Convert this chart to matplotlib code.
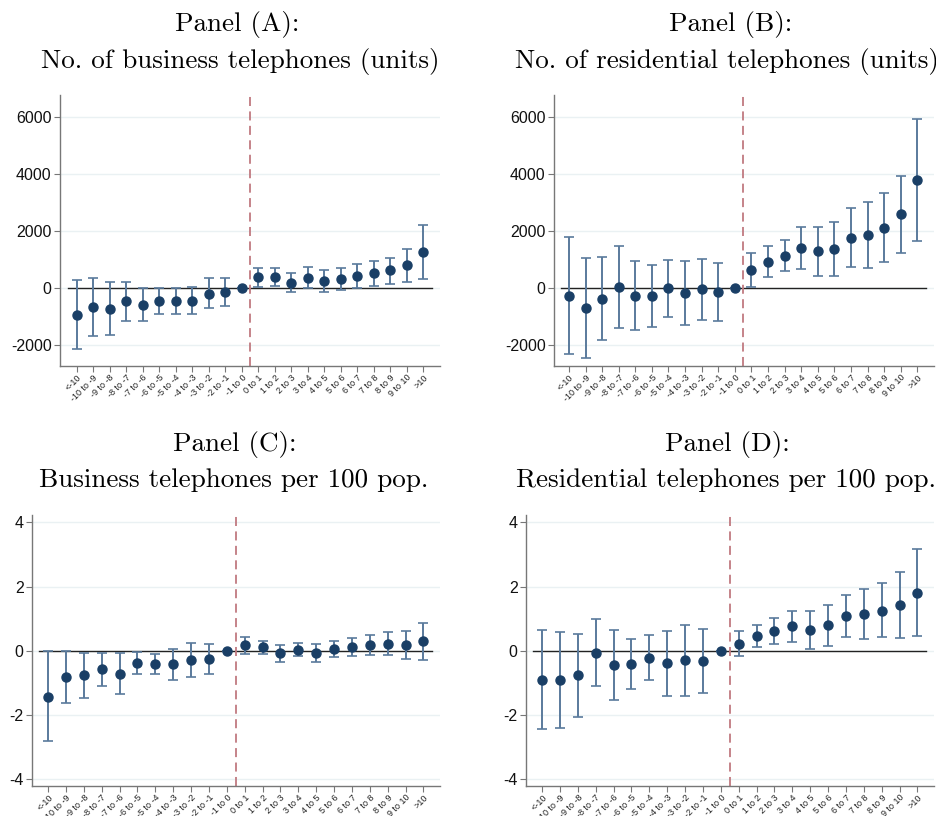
import matplotlib
matplotlib.use("Agg")
import matplotlib.pyplot as plt
import numpy as np

categories = ["<-10", "-10 to -9", "-9 to -8", "-8 to -7", "-7 to -6", "-6 to -5",
              "-5 to -4", "-4 to -3", "-3 to -2", "-2 to -1", "-1 to 0",
              "0 to 1", "1 to 2", "2 to 3", "3 to 4", "4 to 5", "5 to 6",
              "6 to 7", "7 to 8", "8 to 9", "9 to 10", ">10"]

# Panel A: business telephones (units)
a_est = [-959, -667, -725, -468, -585, -456, -456, -456, -199, -152, 0,
         363, 363, 175, 351, 234, 304, 421, 503, 608, 807, 1251]
a_lo = [-2160, -1680, -1660, -1180, -1180, -920, -900, -930, -700, -650, 0,
        40, 60, -160, 0, -150, -80, 0, 70, 150, 220, 300]
a_hi = [270, 330, 190, 210, 0, 10, 0, 20, 330, 340, 0,
        690, 680, 520, 720, 630, 680, 840, 950, 1060, 1370, 2200]

# Panel B: residential telephones (units)
b_est = [-281, -702, -386, 23, -292, -292, -23, -175, -58, -140, 0,
         620, 912, 1123, 1392, 1275, 1345, 1754, 1836, 2105, 2573, 3778]
b_lo = [-2304, -2444, -1836, -1404, -1485, -1368, -1018, -1287, -1134, -1170, 0,
        35, 363, 585, 667, 421, 409, 725, 678, 901, 1228, 1637]
b_hi = [1766, 1041, 1088, 1450, 924, 795, 982, 924, 1017, 877, 0,
        1216, 1474, 1661, 2129, 2129, 2304, 2784, 2994, 3310, 3918, 5906]

# Panel C: business telephones per 100 pop.
c_est = [-1.43, -0.83, -0.77, -0.58, -0.72, -0.38, -0.42, -0.43, -0.28, -0.27, 0,
         0.17, 0.10, -0.08, 0.03, -0.06, 0.04, 0.11, 0.19, 0.22, 0.19, 0.29]
c_lo = [-2.83, -1.63, -1.49, -1.09, -1.34, -0.73, -0.72, -0.91, -0.81, -0.73, 0,
        -0.09, -0.11, -0.35, -0.18, -0.34, -0.21, -0.16, -0.14, -0.14, -0.26, -0.29]
c_hi = [0.0, 0.0, -0.06, -0.06, -0.08, -0.03, -0.11, 0.06, 0.24, 0.20, 0,
        0.44, 0.31, 0.18, 0.25, 0.20, 0.30, 0.38, 0.50, 0.57, 0.62, 0.87]

# Panel D: residential telephones per 100 pop.
d_est = [-0.90, -0.92, -0.77, -0.07, -0.45, -0.42, -0.22, -0.40, -0.30, -0.32, 0,
         0.22, 0.46, 0.61, 0.76, 0.64, 0.80, 1.08, 1.14, 1.25, 1.42, 1.81]
d_lo = [-2.44, -2.41, -2.06, -1.11, -1.53, -1.19, -0.93, -1.42, -1.40, -1.33, 0,
        -0.18, 0.10, 0.21, 0.26, 0.04, 0.16, 0.42, 0.35, 0.42, 0.40, 0.46]
d_hi = [0.64, 0.57, 0.52, 0.98, 0.65, 0.35, 0.49, 0.61, 0.81, 0.69, 0,
        0.62, 0.81, 1.02, 1.25, 1.23, 1.43, 1.74, 1.93, 2.10, 2.45, 3.18]

W, H = 937, 816
fig = plt.figure(figsize=(W / 100, H / 100), dpi=100)
fig.patch.set_facecolor("white")

panels = [
    dict(box=(60, 95, 440, 366), est=a_est, lo=a_lo, hi=a_hi,
         yticks=[-2000, 0, 2000, 4000, 6000], ylim=(-2740, 6760), xlim=(-1.0, 22.0)),
    dict(box=(554, 95, 934, 366), est=b_est, lo=b_lo, hi=b_hi,
         yticks=[-2000, 0, 2000, 4000, 6000], ylim=(-2740, 6760), xlim=(-0.9, 22.0)),
    dict(box=(32, 515, 440, 786), est=c_est, lo=c_lo, hi=c_hi,
         yticks=[-4, -2, 0, 2, 4], ylim=(-4.22, 4.23), xlim=(-0.9, 21.93)),
    dict(box=(526, 515, 934, 786), est=d_est, lo=d_lo, hi=d_hi,
         yticks=[-4, -2, 0, 2, 4], ylim=(-4.22, 4.23), xlim=(-0.9, 21.93)),
]

# (text, center x px, baseline y px)
title_lines = [
    ("Panel (A):", 237, 31), ("No. of business telephones (units)", 240, 68),
    ("Panel (B):", 731, 31), ("No. of residential telephones (units)", 727, 68),
    ("Panel (C):", 235, 451), ("Business telephones per 100 pop.", 234, 487),
    ("Panel (D):", 727, 451), ("Residential telephones per 100 pop.", 726, 487),
]

navy = "#1a3f66"
bar_col = "#5a7a9c"
x = np.arange(len(categories))

for p in panels:
    l, t, r, b = p["box"]
    ax = fig.add_axes([l / W, 1 - b / H, (r - l) / W, (b - t) / H])
    est = np.array(p["est"], dtype=float)
    lo = np.array(p["lo"], dtype=float)
    hi = np.array(p["hi"], dtype=float)
    ax.set_xlim(*p["xlim"])
    ax.set_ylim(*p["ylim"])
    for yt in p["yticks"]:
        ax.axhline(yt, color="#eaf1f3", lw=1.0, zorder=0)
    ax.plot([-0.5, 21.5], [0, 0], color="#222222", lw=1.0, zorder=1)
    ax.axvline(10.5, color="#c07a80", lw=1.3, ls=(0, (5, 3)), zorder=1)
    ax.errorbar(x, est, yerr=[est - lo, hi - est], fmt="none", ecolor=bar_col,
                elinewidth=1.4, capsize=3.4, capthick=1.2, zorder=2)
    ax.plot(x, est, "o", color=navy, ms=6.5, zorder=3)
    ax.set_yticks(p["yticks"])
    ax.set_yticklabels([str(v) for v in p["yticks"]], fontsize=11.5,
                       family="Liberation Sans", color="#111111")
    ax.set_xticks(x)
    ax.set_xticklabels(categories, rotation=45, ha="right", rotation_mode="anchor",
                       fontsize=6.5, family="Liberation Sans", color="#222222")
    for s in ["top", "right"]:
        ax.spines[s].set_visible(False)
    for s in ["left", "bottom"]:
        ax.spines[s].set_color("#777777")
        ax.spines[s].set_linewidth(1.0)
    ax.tick_params(axis="y", length=4, width=0.8, color="#777777", pad=2)
    ax.tick_params(axis="x", length=4, width=0.8, color="#777777", pad=1)

for txt, cx, by in title_lines:
    fig.text(cx / W, 1 - by / H, txt, ha="center", va="baseline", fontsize=19.5,
             family="cmr10")

fig.savefig("out.png", dpi=100, facecolor="white")
